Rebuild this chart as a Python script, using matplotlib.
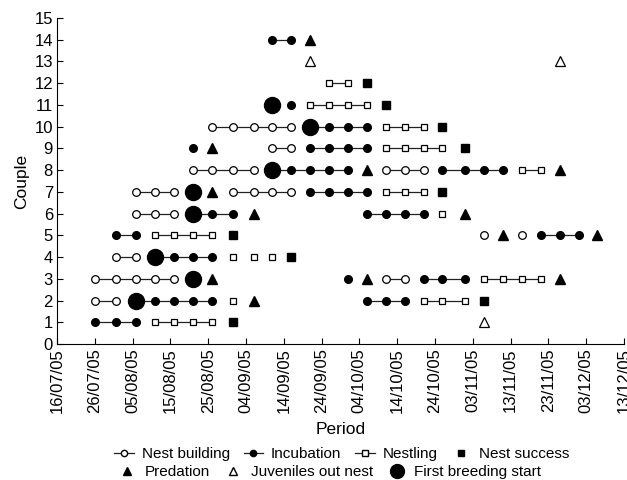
import matplotlib
matplotlib.use("Agg")
import matplotlib.pyplot as plt
from matplotlib.lines import Line2D

plt.rcParams['font.family'] = ['Liberation Sans', 'DejaVu Sans']

# days counted from 16/07/05
tick_days = [0, 10, 20, 30, 40, 50, 60, 70, 80, 90, 100, 110, 120, 130, 140, 150]
tick_labels = ["16/07/05", "26/07/05", "05/08/05", "15/08/05", "25/08/05",
               "04/09/05", "14/09/05", "24/09/05", "04/10/05", "14/10/05",
               "24/10/05", "03/11/05", "13/11/05", "23/11/05", "03/12/05",
               "13/12/05"]

# (couple, days of a connected run)
nest_building = [(2, [10, 15.5]), (3, [10, 15.5, 21, 26, 31]), (3, [87, 92]),
                 (4, [15.5, 21]), (5, [113]), (5, [123]), (6, [21, 26, 31]),
                 (7, [21, 26, 31]), (7, [46.5, 52, 57, 62]),
                 (8, [36, 41, 46.5, 52]), (8, [87, 92, 97]), (9, [57, 62]),
                 (10, [41, 46.5, 52, 57, 62])]
incubation = [(1, [10, 15.5, 21]), (2, [21, 26, 31, 36, 41]), (2, [82, 87, 92]),
              (3, [77]), (3, [97, 102, 108]), (4, [26, 31, 36, 41]),
              (5, [15.5, 21]), (5, [128, 133, 138]), (6, [36, 41, 46.5]),
              (6, [82, 87, 92, 97]), (7, [67, 72, 77, 82]),
              (8, [57, 62, 67, 72, 77]), (8, [102, 108, 113, 118]), (9, [36]),
              (9, [67, 72, 77, 82]), (10, [67, 72, 77, 82]), (11, [62]),
              (14, [57, 62])]
nestling = [(1, [26, 31, 36, 41]), (2, [46.5]), (2, [97, 102, 108]),
            (3, [113, 118, 123, 128]), (4, [46.5]), (4, [52]), (4, [57]),
            (5, [26, 31, 36, 41]), (6, [102]), (7, [87, 92, 97]),
            (8, [123, 128]), (9, [87, 92, 97, 102]), (10, [87, 92, 97]),
            (11, [67, 72, 77, 82]), (12, [72, 77])]
nest_success = [(1, 46.5), (2, 113), (4, 62), (5, 46.5), (7, 102), (9, 108),
                (10, 102), (11, 87), (12, 82)]
predation = [(2, 52), (3, 41), (3, 82), (3, 133), (5, 118), (5, 143), (6, 52),
             (6, 108), (7, 41), (8, 82), (8, 133), (9, 41), (14, 67)]
juveniles_out = [(1, 113), (13, 67), (13, 133)]
first_breeding = [(2, 21), (3, 36), (4, 26), (6, 36), (7, 36), (8, 57),
                  (10, 67), (11, 57)]

# figure and axes placed like the original
fig = plt.figure(figsize=(6.27, 4.8), dpi=100)
ax = fig.add_axes([0.091, 0.283, 0.904, 0.6795])

lc = "#222222"
# runs joined by lines
for couple, days in nest_building:
    ax.plot(days, [couple] * len(days), color=lc, lw=0.9, marker="o", ms=5.5,
            mfc="white", mec="black", mew=0.9, zorder=2)
for couple, days in incubation:
    ax.plot(days, [couple] * len(days), color=lc, lw=0.9, marker="o", ms=5.5,
            mfc="black", mec="black", zorder=2)
for couple, days in nestling:
    ax.plot(days, [couple] * len(days), color=lc, lw=0.9, marker="s", ms=5,
            mfc="white", mec="black", mew=0.9, zorder=2)

# single events
ax.plot([d for c, d in nest_success], [c for c, d in nest_success], ls="none",
        marker="s", ms=5.5, color="black", zorder=3)
ax.plot([d for c, d in predation], [c for c, d in predation], ls="none",
        marker="^", ms=7, color="black", zorder=3)
ax.plot([d for c, d in juveniles_out], [c for c, d in juveniles_out], ls="none",
        marker="^", ms=7, mfc="white", mec="black", mew=0.9, zorder=3)
ax.plot([d for c, d in first_breeding], [c for c, d in first_breeding],
        ls="none", marker="o", ms=11.5, color="black", zorder=4)

# axes styling
ax.set_xlim(0, 150)
ax.set_ylim(0, 15)
ax.set_xticks(tick_days)
ax.set_xticklabels(tick_labels, rotation=90, fontsize=12)
ax.set_yticks(range(0, 16))
ax.tick_params(axis="y", labelsize=12)
ax.tick_params(direction="in", length=4, width=0.8, pad=3)
ax.spines["top"].set_visible(False)
ax.spines["right"].set_visible(False)
ax.set_xlabel("Period", fontsize=12.5, labelpad=6)
ax.set_ylabel("Couple", fontsize=12.5, labelpad=4)

# legend in two centred rows
row1 = [Line2D([], [], color=lc, lw=0.9, marker="o", ms=4.5, mfc="white", mec="black"),
        Line2D([], [], color=lc, lw=0.9, marker="o", ms=4.5, mfc="black", mec="black"),
        Line2D([], [], color=lc, lw=0.9, marker="s", ms=4.5, mfc="white", mec="black"),
        Line2D([], [], ls="none", marker="s", ms=4.5, color="black")]
row2 = [Line2D([], [], ls="none", marker="^", ms=5.5, color="black"),
        Line2D([], [], ls="none", marker="^", ms=5.5, mfc="white", mec="black"),
        Line2D([], [], ls="none", marker="o", ms=10, color="black")]
leg1 = fig.legend(row1, ["Nest building", "Incubation", "Nestling", "Nest success"],
                  loc="center", bbox_to_anchor=(0.545, 1 - 454 / 480), ncol=4,
                  frameon=False, fontsize=11, handlelength=1.3, handletextpad=0.5,
                  columnspacing=0.9, borderpad=0)
leg2 = fig.legend(row2, ["Predation", "Juveniles out nest", "First breeding start"],
                  loc="center", bbox_to_anchor=(0.525, 1 - 472 / 480), ncol=3,
                  frameon=False, fontsize=11, handlelength=1.3, handletextpad=0.5,
                  columnspacing=0.9, borderpad=0)

fig.savefig("out.png", dpi=100)
